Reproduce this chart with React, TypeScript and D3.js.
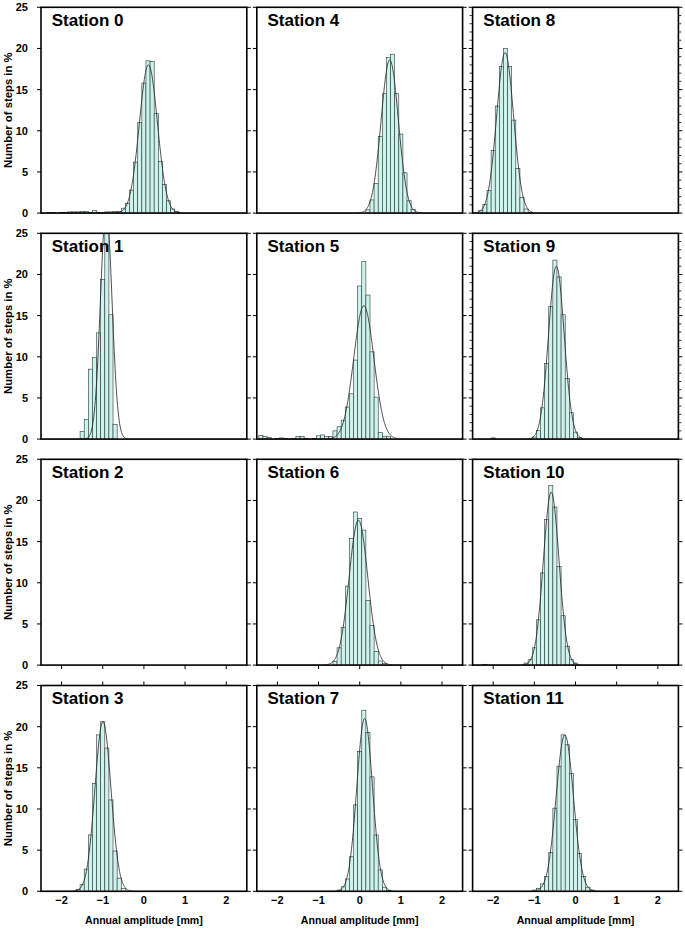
import React from "react";
import * as d3 from "d3";

// ---------- data ----------
const STATIONS = [
  "Station 0", "Station 1", "Station 2", "Station 3",
  "Station 4", "Station 5", "Station 6", "Station 7",
  "Station 8", "Station 9", "Station 10", "Station 11",
];
const X_TICKS = [-2, -1, 0, 1, 2];
const Y_TICKS = [0, 5, 10, 15, 20, 25];
const X_DOMAIN = [-2.5, 2.5];
const Y_DOMAIN = [0, 25];
const BIN_WIDTH = 0.1;
const X_TITLE = "Annual amplitude [mm]";
const Y_TITLE = "Number of steps in %";

// centre of first 0.1 mm bin for each station, then consecutive bin heights (% of steps)
const binStart = [-2.3, -1.5, 0, -1.6, 0.2, -2.4, -0.6, -0.5, -2.3, -2.0, -2.2, -1.0];

const pct0 = [0.05, 0.05, 0, 0.1, 0.1, 0.15, 0.15, 0.15, 0.2, 0.2, 0.1, 0.3, 0.1, 0.1, 0.15, 0.15, 0.2, 0.2,
  0.6, 1.2, 2.8, 6.2, 11.0, 15.8, 18.5, 18.4, 12.1, 6.3, 3.5, 1.5, 0.5, 0.2];
const pct1 = [0.93, 2.4, 8.5, 9.9, 12.9, 19.4, 29.0, 15.1, 1.8];
const pct2: number[] = [];
const pct3 = [0.25, 0.8, 2.7, 6.85, 13.1, 19.0, 20.6, 17.4, 11.1, 4.9, 1.6, 0.35];
const pct4 = [0.4, 1.6, 3.6, 9.3, 14.5, 18.9, 19.3, 14.5, 9.6, 4.9, 1.5, 0.45];
const pct5 = [0.45, 0.35, 0.2, 0, 0.05, 0.15, 0.1, 0, 0.05, 0.3, 0.3, 0.1, 0, 0.05, 0.4, 0.5, 0.3, 0.3,
  1.0, 1.5, 2.3, 3.9, 5.5, 9.6, 18.6, 21.6, 17.5, 10.6, 5.1, 0.8, 0.35, 0.35];
const pct6 = [0.45, 2.1, 4.6, 9.6, 15.4, 18.6, 17.8, 16.4, 7.85, 4.8, 1.65, 0.5, 0.2];
const pct7 = [0.15, 0.55, 1.5, 4.2, 10.5, 17.0, 22.0, 19.3, 13.9, 6.85, 2.6, 0.5, 0.1];
const pct8 = [0.3, 1.05, 2.75, 7.6, 13.0, 17.8, 20.0, 17.8, 11.3, 5.4, 1.9, 0.5, 0.1];
const pct9 = [0.15, 0, 0, 0, 0, 0, 0, 0, 0, 0, 0.25, 1.05, 3.8, 9.2, 16.1, 21.75, 19.7, 15.1, 7.35, 3.2, 0.85, 0.2];
const pct10 = [0.1, 0, 0, 0, 0, 0, 0, 0, 0, 0, 0.25, 0.65, 2.1, 5.5, 11.2, 17.7, 21.8, 19.2, 12.0, 6.0, 2.3, 0.65, 0.25];
const pct11 = [0.15, 0.35, 0.9, 1.8, 4.7, 10.1, 15.2, 19.0, 17.8, 14.3, 8.7, 4.6, 1.8, 0.5, 0.15];
const binPct = [pct0, pct1, pct2, pct3, pct4, pct5, pct6, pct7, pct8, pct9, pct10, pct11];

// fitted normal curve per station (mean [mm], sigma [mm], peak [%]); station 2 has none
const fitMean = [0.11, -0.915, NaN, -0.995, 0.73, 0.1, -0.03, 0.12, -1.71, -0.465, -0.59, -0.26];
const fitSigma = [0.22, 0.14, NaN, 0.195, 0.21, 0.245, 0.227, 0.19, 0.205, 0.19, 0.19, 0.21];
const fitPeak = [18.0, 28.0, NaN, 20.6, 18.6, 16.2, 17.6, 21.0, 19.5, 21.0, 21.0, 19.0];

// ---------- layout ----------
const W = 685;
const H = 929;
const PANEL = 205.8;
const COL_X = [41, 256.8, 472.6];
const ROW_Y = [7.3, 233.3, 459.3, 685.5];
const FONT = "'Liberation Sans', Arial, Helvetica, sans-serif";
const BAR_FILL = "#cbf5ec";

function Panel({ idx }: { idx: number }) {
  const col = Math.floor(idx / 4);
  const row = idx % 4;
  const x0 = COL_X[col];
  const y0 = ROW_Y[row];
  const x = d3.scaleLinear().domain(X_DOMAIN).range([x0, x0 + PANEL]);
  const y = d3.scaleLinear().domain(Y_DOMAIN).range([y0 + PANEL, y0]);
  const clipId = `clip${idx}`;

  const bars = binPct[idx].map((v, i) => {
    const c = binStart[idx] + i * BIN_WIDTH;
    return { c, v };
  }).filter((b) => b.v > 0);

  let curve: string | null = null;
  if (!isNaN(fitMean[idx])) {
    const xs = d3.range(X_DOMAIN[0], X_DOMAIN[1] + 1e-9, 0.01);
    const m = fitMean[idx], s = fitSigma[idx], p = fitPeak[idx];
    const line = d3.line<number>()
      .x((d) => x(d))
      .y((d) => y(p * Math.exp(-((d - m) ** 2) / (2 * s * s))));
    curve = line(xs);
  }

  const tickLen = 4;
  const minor = row <= 1 && col === 2;
  const minorTicks = minor ? d3.range(0, 26, 1).filter((t) => t % 5 !== 0) : [];

  return (
    <g>
      <defs>
        <clipPath id={clipId}>
          <rect x={x0} y={y0} width={PANEL} height={PANEL} />
        </clipPath>
      </defs>
      <g clipPath={`url(#${clipId})`}>
        {bars.map((b, i) => (
          <rect
            key={i}
            x={x(b.c - BIN_WIDTH / 2)}
            y={y(b.v)}
            width={x(b.c + BIN_WIDTH / 2) - x(b.c - BIN_WIDTH / 2)}
            height={y(0) - y(b.v)}
            fill={BAR_FILL}
            stroke="#333"
            strokeWidth={0.6}
          />
        ))}
        {curve && <path d={curve} fill="none" stroke="#222" strokeWidth={0.8} />}
      </g>
      <rect x={x0} y={y0} width={PANEL} height={PANEL} fill="none" stroke="#000" strokeWidth={1.6} />
      {Y_TICKS.map((t) => (
        <g key={`yt${t}`}>
          <line x1={x0 - tickLen} x2={x0} y1={y(t)} y2={y(t)} stroke="#000" strokeWidth={1} />
          <line x1={x0 + PANEL} x2={x0 + PANEL + tickLen} y1={y(t)} y2={y(t)} stroke="#000" strokeWidth={1} />
        </g>
      ))}
      {minorTicks.map((t) => (
        <g key={`ym${t}`}>
          <line x1={x0 - 3} x2={x0} y1={y(t)} y2={y(t)} stroke="#000" strokeWidth={0.8} />
          <line x1={x0 + PANEL} x2={x0 + PANEL + 3} y1={y(t)} y2={y(t)} stroke="#000" strokeWidth={0.8} />
        </g>
      ))}
      {row === 2 && X_TICKS.map((t) => (
        <line key={`xb${t}`} x1={x(t)} x2={x(t)} y1={y0 + PANEL} y2={y0 + PANEL + tickLen} stroke="#000" strokeWidth={1} />
      ))}
      {row === 3 && X_TICKS.map((t) => (
        <line key={`xt${t}`} x1={x(t)} x2={x(t)} y1={y0 - tickLen} y2={y0} stroke="#000" strokeWidth={1} />
      ))}
      {col === 0 && Y_TICKS.map((t) => (
        <text key={`yl${t}`} x={x0 - 13} y={y(t)} dy="0.36em" textAnchor="end"
          fontFamily={FONT} fontWeight="bold" fontSize={11}>{t}</text>
      ))}
      {col === 0 && (
        <text transform={`translate(${7.5},${y0 + PANEL / 2}) rotate(-90)`} textAnchor="middle" dy="0.36em"
          fontFamily={FONT} fontWeight="bold" fontSize={11.3}>{Y_TITLE}</text>
      )}
      {row === 3 && X_TICKS.map((t) => (
        <text key={`xl${t}`} x={x(t)} y={y0 + PANEL + 13} textAnchor="middle"
          fontFamily={FONT} fontWeight="bold" fontSize={11}>{t < 0 ? `\u2212${Math.abs(t)}` : `${t}`}</text>
      ))}
      {row === 3 && (
        <text x={x0 + PANEL / 2} y={y0 + PANEL + 32.5} textAnchor="middle"
          fontFamily={FONT} fontWeight="bold" fontSize={10.6}>{X_TITLE}</text>
      )}
      <text x={x0 + 10.7} y={y0 + 18.3} fontFamily={FONT} fontWeight="bold" fontSize={17}>{STATIONS[idx]}</text>
    </g>
  );
}

export default function App() {
  return (
    <div style={{ position: "absolute", left: 0, top: 0 }}>
      <svg width={W} height={H} style={{ display: "block", background: "#fff" }}>
        <rect x={0} y={0} width={W} height={H} fill="#fff" />
        {STATIONS.map((_, i) => <Panel key={i} idx={i} />)}
      </svg>
    </div>
  );
}
